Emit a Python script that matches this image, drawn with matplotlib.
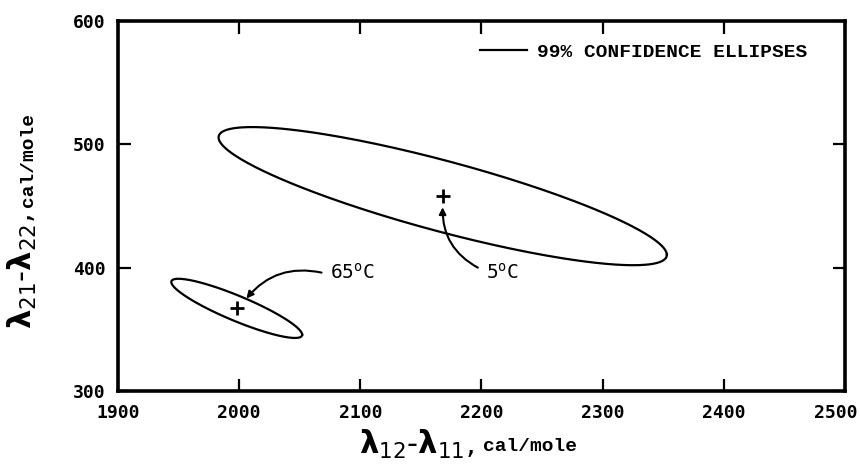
import matplotlib
matplotlib.use('Agg')
import matplotlib.pyplot as plt
import matplotlib.transforms as mtrans
import numpy as np

# 99% confidence ellipses: centre, half extent in x / y, correlation
temps = ['5', '65']
centre_x = [2168, 1998]
centre_y = [458, 367]
half_x = [185, 54]
half_y = [56, 24]
corr = [-0.85, -0.89]

# temperature labels and the arrows pointing at each centre
label_x = [2204, 2075]
label_y = [396, 396]
tail_x = [2197, 2068]
tail_y = [400, 396]
tip_x = [2168, 2006]
tip_y = [449, 375]
arc = [-0.3, 0.3]

x_ticks = [1900, 2000, 2100, 2200, 2300, 2400, 2500]
y_ticks = [300, 400, 500, 600]

MONO = 'DejaVu Sans Mono'
TYPE = 'Liberation Mono'

fig = plt.figure(figsize=(8.6, 4.72), dpi=100)
ax = fig.add_axes([0.1372, 0.1716, 0.8453, 0.7839])

t = np.linspace(0, 2 * np.pi, 300)
for i in range(len(temps)):
    ex = centre_x[i] + half_x[i] * np.cos(t)
    ey = centre_y[i] + half_y[i] * (corr[i] * np.cos(t) + np.sqrt(1 - corr[i] ** 2) * np.sin(t))
    ax.plot(ex, ey, color='black', lw=1.6,
            label='99% CONFIDENCE ELLIPSES' if i == 0 else None)
    ax.plot(centre_x[i], centre_y[i], marker='+', color='black', ms=10, mew=2)
    ax.annotate('', xy=(tip_x[i], tip_y[i]), xytext=(tail_x[i], tail_y[i]),
                arrowprops=dict(arrowstyle='-|>', color='black', lw=1.5,
                                mutation_scale=10, shrinkA=0, shrinkB=0,
                                connectionstyle='arc3,rad=%s' % arc[i]))
    ax.text(label_x[i], label_y[i], temps[i] + r'$^\mathregular{o}$C',
            family=MONO, fontsize=14, ha='left', va='center')

ax.set_xlim(1900, 2500)
ax.set_ylim(300, 600)
ax.set_xticks(x_ticks)
ax.set_yticks(y_ticks)
ax.tick_params(direction='in', length=9, width=1.6, top=True, right=True,
               labelsize=13, pad=9)
for lab in ax.get_xticklabels() + ax.get_yticklabels():
    lab.set_family(MONO)
    lab.set_fontweight('bold')
# last x label sits at the figure edge, nudge it in a little
last = ax.get_xticklabels()[-1]
last.set_transform(last.get_transform() + mtrans.ScaledTranslation(-9 / 100, 0, fig.dpi_scale_trans))
for sp in ax.spines.values():
    sp.set_linewidth(2.6)

leg = ax.legend(loc='upper right', bbox_to_anchor=(0.972, 0.987), frameon=False,
                handlelength=2.4, handletextpad=0.5,
                prop={'family': TYPE, 'weight': 'bold', 'size': 14})

# axis labels: big bold lambdas plus small typewriter units
xl = ax.text(0.411, -0.145, r'$\boldsymbol{\lambda}_{12}$-$\boldsymbol{\lambda}_{11}$,',
             transform=ax.transAxes, fontsize=22, ha='center', va='center')
ax.annotate('cal/mole', xy=(1, 0.3), xycoords=xl, xytext=(6, 0),
            textcoords='offset points', family=TYPE, fontweight='bold',
            fontsize=14, ha='left', va='baseline')
yl = ax.text(-0.132, 0.324, r'$\boldsymbol{\lambda}_{21}$-$\boldsymbol{\lambda}_{22}$,',
             transform=ax.transAxes, fontsize=22, ha='center', va='center',
             rotation=90)
ax.annotate('cal/mole', xy=(0.7, 1), xycoords=yl, xytext=(0, 5),
            textcoords='offset points', family=TYPE, fontweight='bold',
            fontsize=14, ha='center', va='bottom', rotation=90)

fig.savefig('out.png', dpi=100, facecolor='white')
